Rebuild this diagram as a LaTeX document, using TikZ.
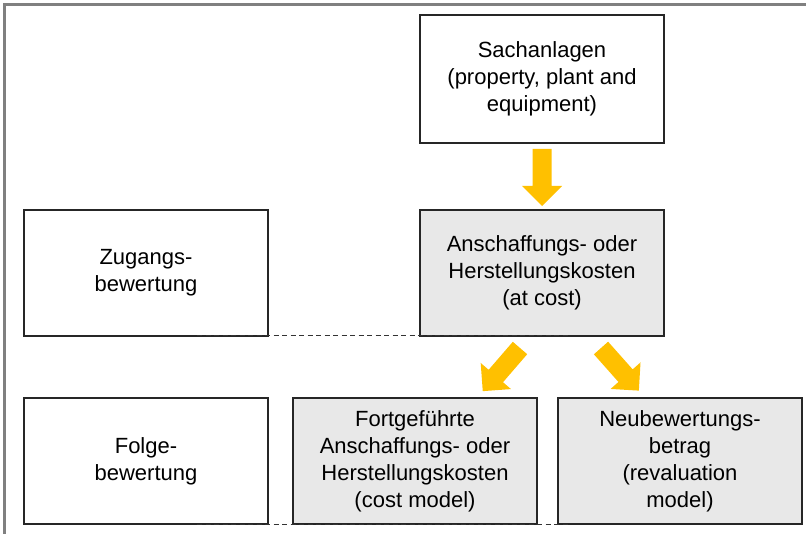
\documentclass[tikz,border=0pt]{standalone}
\usepackage{fontspec}
\setmainfont{Liberation Sans}
\definecolor{arrowc}{HTML}{FFC000}
\definecolor{boxfill}{HTML}{E8E8E8}
\definecolor{framec}{HTML}{808080}
\begin{document}
\begin{tikzpicture}[x=1pt,y=-1pt,
  box/.style={draw=black!85, line width=1.2pt, minimum width=244pt, minimum height=126pt,
    align=center, inner sep=0pt, font=\fontsize{22}{27}\selectfont},
  grey/.style={box, fill=boxfill},
  guide/.style={draw=black!80, line width=1pt, dash pattern=on 5pt off 3.5pt},
  fatarrow/.pic={\fill[arrowc] (0,-9.5) -- (37,-9.5) -- (37,-20) -- (57,0) -- (37,20) -- (37,9.5) -- (0,9.5) -- cycle;}]
\useasboundingbox (0,0) rectangle (806,534);
\draw[framec, line width=3pt] (4,534) -- (4,5) -- (806,5);

\node[box, minimum height=128pt] (sach) at (542,79) {Sachanlagen\\(property, plant and\\equipment)};
\node[box] (zug) at (146,273) {Zugangs-\\bewertung};
\node[grey] (ansch) at (542,273) {Anschaffungs- oder\\Herstellungskosten\\(at cost)};
\node[box] (folge) at (146,461) {Folge-\\bewertung};
\node[grey] (fort) at (415,461) {Fortgeführte\\Anschaffungs- oder\\Herstellungskosten\\(cost model)};
\node[grey] (neu) at (680,461) {Neubewertungs-\\betrag\\(revaluation\\model)};

\coordinate (g1a) at (197,336);
\coordinate (g1b) at (569,336);
\coordinate (g2a) at (197,524);
\coordinate (g2b) at (569,524);
\draw[guide] (g1a) -- (g1b);
\draw[guide] (g2a) -- (g2b);

\pic[rotate=-90] at (542,149) {fatarrow};
\pic[rotate=-130.8] at (520,348) {fatarrow};
\pic[rotate=-48.4] at (601,348) {fatarrow};
\end{tikzpicture}
\end{document}
